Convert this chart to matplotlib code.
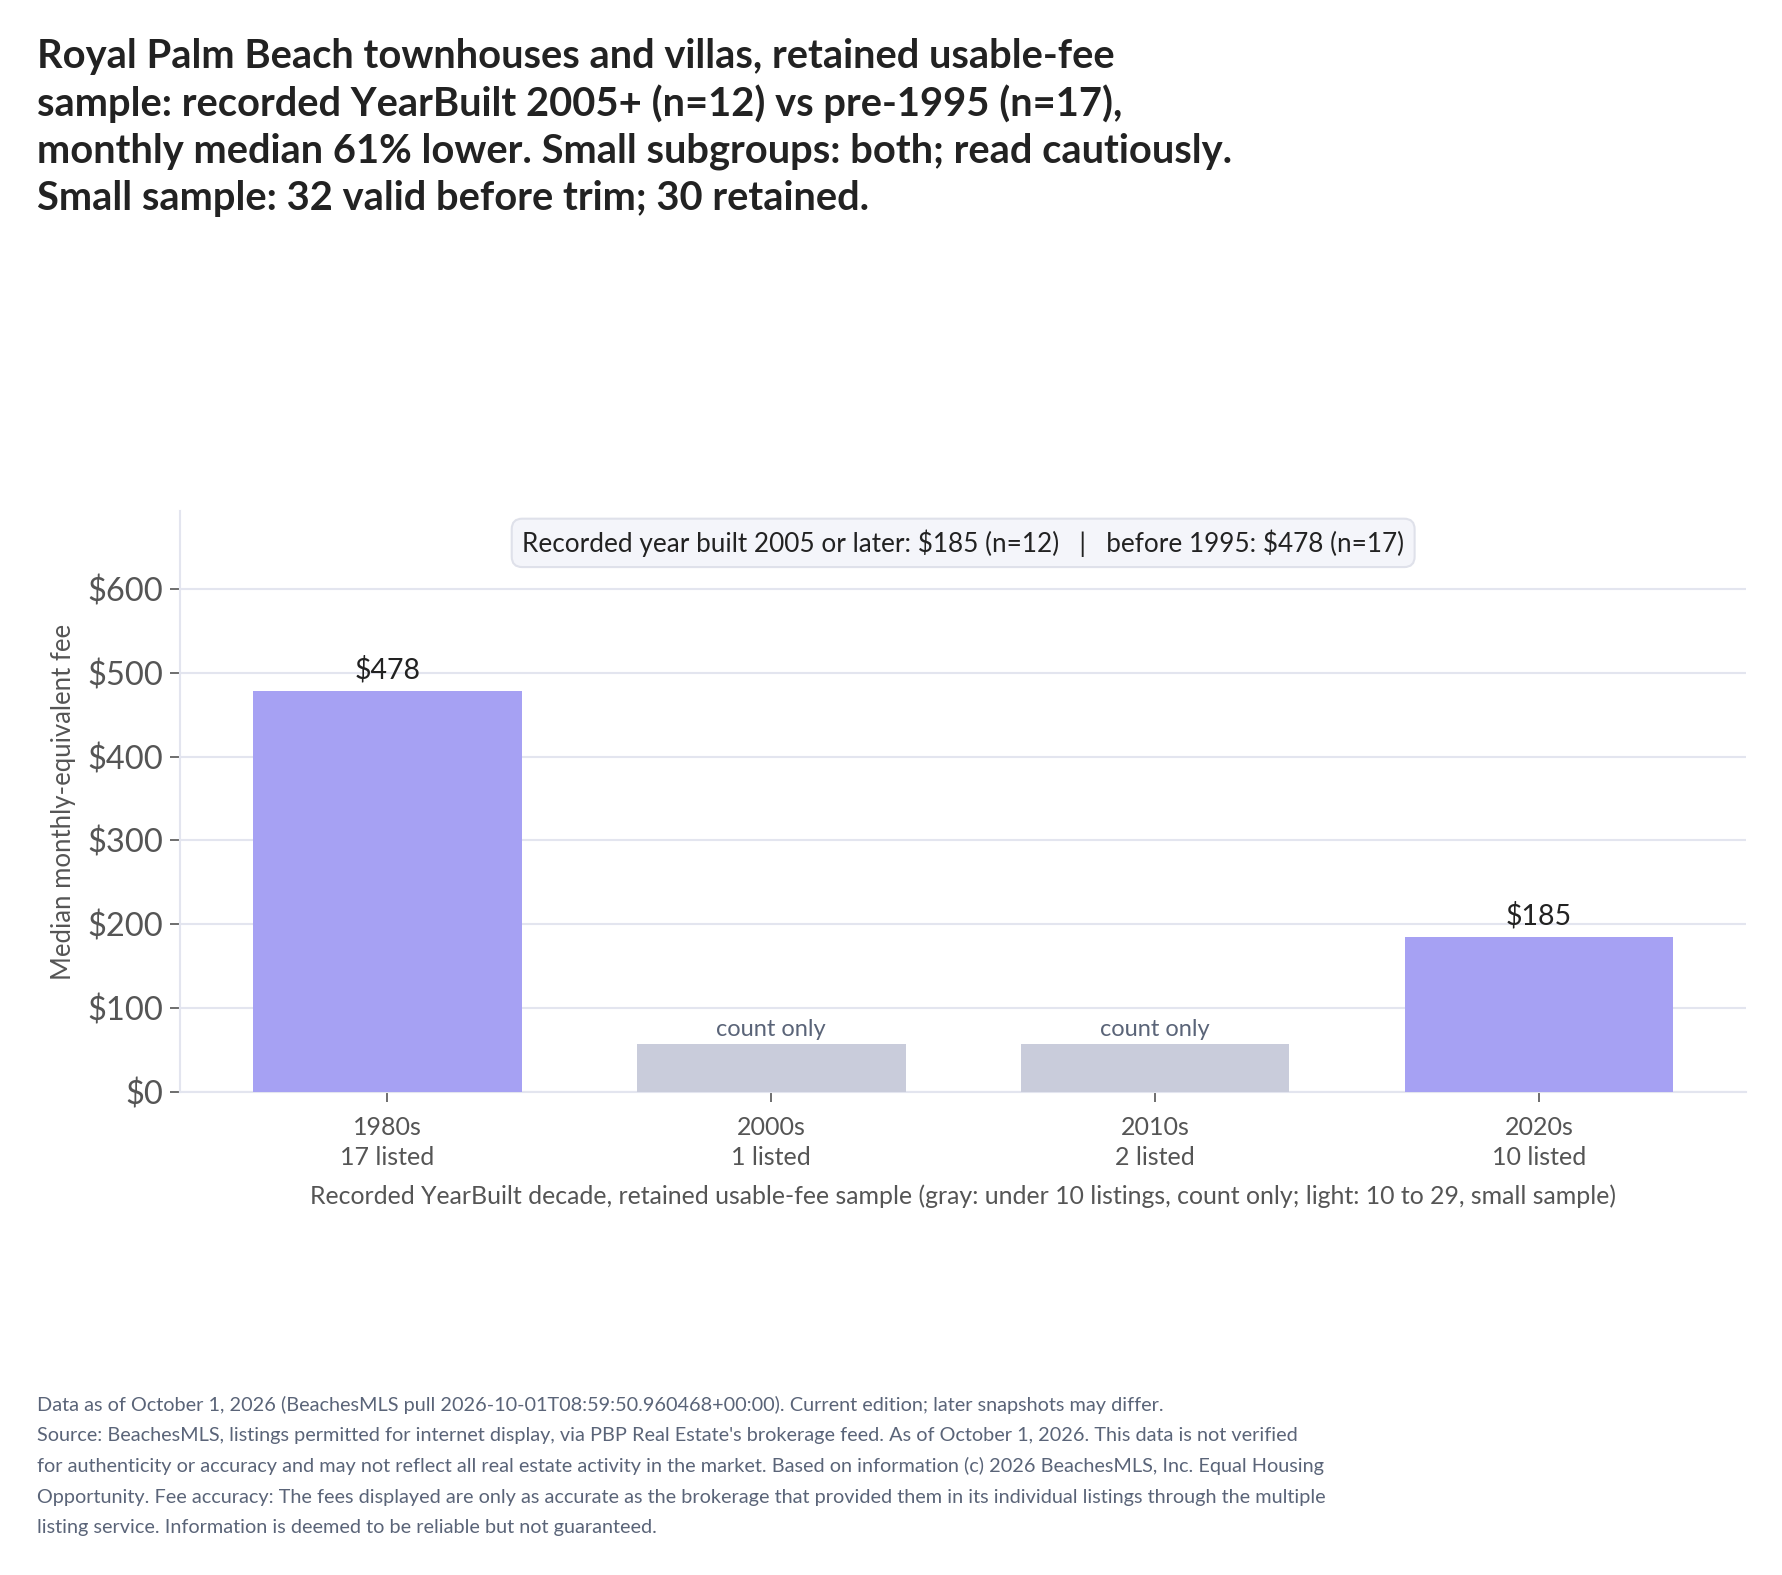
import matplotlib
matplotlib.use("Agg")
import matplotlib.pyplot as plt
from matplotlib.ticker import FuncFormatter

plt.rcParams['font.family'] = ['Lato', 'DejaVu Sans']
plt.rcParams['text.parse_math'] = False

decades = ["1980s", "2000s", "2010s", "2020s"]
counts = [17, 1, 2, 10]
medians = [478, None, None, 185]
count_only_height = 57.4  # placeholder height for count-only bars
yticks = [0, 100, 200, 300, 400, 500, 600]

title = ("Royal Palm Beach townhouses and villas, retained usable-fee\n"
         "sample: recorded YearBuilt 2005+ (n=12) vs pre-1995 (n=17),\n"
         "monthly median 61% lower. Small subgroups: both; read cautiously.\n"
         "Small sample: 32 valid before trim; 30 retained.")
box_text = "Recorded year built 2005 or later: $185 (n=12)   |   before 1995: $478 (n=17)"
xlabel = ("Recorded YearBuilt decade, retained usable-fee sample (gray: under 10 listings, "
          "count only; light: 10 to 29, small sample)")
ylabel = "Median monthly-equivalent fee"
footer_lines = [
    "Data as of October 1, 2026 (BeachesMLS pull 2026-10-01T08:59:50.960468+00:00). Current edition; later snapshots may differ.",
    "Source: BeachesMLS, listings permitted for internet display, via PBP Real Estate's brokerage feed. As of October 1, 2026. This data is not verified",
    "for authenticity or accuracy and may not reflect all real estate activity in the market. Based on information (c) 2026 BeachesMLS, Inc. Equal Housing",
    "Opportunity. Fee accuracy: The fees displayed are only as accurate as the brokerage that provided them in its individual listings through the multiple",
    "listing service. Information is deemed to be reliable but not guaranteed.",
]

PURPLE = "#a6a1f3"
GRAY = "#c9ccdb"
GRID = "#e3e5ef"
TXT = "#555555"
MUTED = "#5a6478"

fig = plt.figure(figsize=(17.82, 15.75), dpi=100)
ax = fig.add_axes([0.101, 0.3067, 0.879, 0.3689])

x = list(range(len(decades)))
heights = [m if m is not None else count_only_height for m in medians]
colors = [PURPLE if m is not None else GRAY for m in medians]
ax.bar(x, heights, width=0.7, color=colors, zorder=3)

for xi, m, h in zip(x, medians, heights):
    if m is not None:
        ax.text(xi, h + 9, f"${m}", ha="center", va="bottom", fontsize=20.5, color="#222222", zorder=4)
    else:
        ax.text(xi, h + 4, "count only", ha="center", va="bottom", fontsize=17, color=MUTED, zorder=4)

ax.set_xlim(-0.54, 3.54)
ymax = max(m for m in medians if m is not None) * 1.45
ax.set_ylim(0, ymax)
ax.set_yticks(yticks)
ax.yaxis.set_major_formatter(FuncFormatter(lambda v, p: f"${int(v)}"))
ax.set_xticks(x)
ax.set_xticklabels([f"{d}\n{c} listed" for d, c in zip(decades, counts)], fontsize=18, color=TXT,
                   linespacing=1.38)
ax.tick_params(axis="y", labelsize=23.5, labelcolor=TXT, color=TXT, length=7, width=1.2, pad=5)
ax.tick_params(axis="x", color=TXT, length=7, width=1.2, pad=10)
ax.grid(axis="y", color=GRID, linewidth=1.5, zorder=0)
ax.set_axisbelow(True)
for s in ["top", "right"]:
    ax.spines[s].set_visible(False)
for s in ["left", "bottom"]:
    ax.spines[s].set_color(GRID)
    ax.spines[s].set_linewidth(1.5)

ax.set_ylabel(ylabel, fontsize=18.5, color=TXT, labelpad=8)
ax.set_xlabel(xlabel, fontsize=17.9, color=TXT, labelpad=11)

ax.text(0.5, 0.945, box_text, transform=ax.transAxes, ha="center", va="center", fontsize=18.8,
        color="#222222", zorder=5,
        bbox=dict(boxstyle="round,pad=0.4,rounding_size=0.4", facecolor="#f4f5fa",
                  edgecolor="#dfe1ea", linewidth=1.5))

fig.text(0.021, 1 - 38 / 1575, title, ha="left", va="top", fontsize=28.7, fontweight="bold",
         color="#222222", linespacing=1.31)

for i, line in enumerate(footer_lines):
    fig.text(0.021, 1 - (1405 + i * 30.7) / 1575, line, ha="left", va="center", fontsize=14.3,
             color=MUTED)

fig.savefig("out.png", dpi=100, facecolor="white")
